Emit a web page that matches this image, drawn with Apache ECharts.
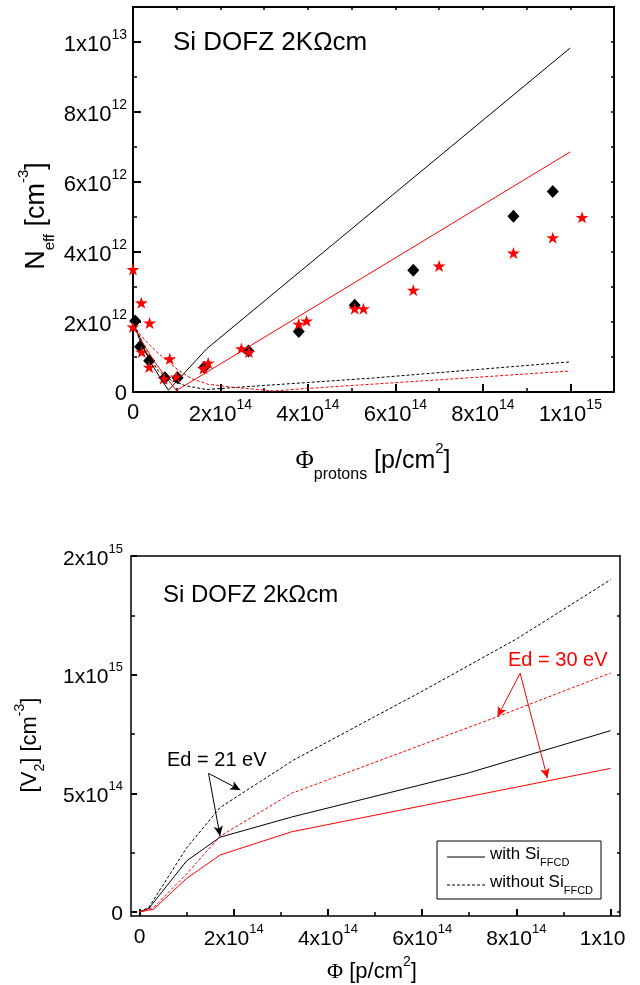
<!DOCTYPE html>
<html><head><meta charset="utf-8">
<script src="https://cdn.jsdelivr.net/npm/echarts@6/dist/echarts.min.js"></script>
<style>html,body{margin:0;padding:0;background:#fff}#c{width:640px;height:985px}</style>
</head><body><div id="c"></div>
<script>
// ---------- Top panel: N_eff vs proton fluence ----------
const diamondPhi  = [0.05e14, 0.16e14, 0.37e14, 0.73e14, 1.02e14, 1.63e14, 2.64e14, 3.79e14, 5.07e14, 6.41e14, 8.70e14, 9.60e14];
const diamondNeff = [2.03e12, 1.29e12, 0.89e12, 0.41e12, 0.41e12, 0.71e12, 1.17e12, 1.73e12, 2.48e12, 3.48e12, 5.02e12, 5.73e12];
const starPhi  = [0, 0, 0.19e14, 0.20e14, 0.38e14, 0.37e14, 0.70e14, 0.84e14, 0.99e14, 1.61e14, 1.72e14, 2.48e14, 2.65e14, 3.79e14, 3.97e14, 5.07e14, 5.27e14, 6.41e14, 7.00e14, 8.70e14, 9.60e14, 10.27e14];
const starNeff = [3.50e12, 1.86e12, 2.55e12, 1.14e12, 1.97e12, 0.71e12, 0.38e12, 0.95e12, 0.43e12, 0.67e12, 0.83e12, 1.24e12, 1.14e12, 1.94e12, 2.03e12, 2.38e12, 2.38e12, 2.91e12, 3.60e12, 3.97e12, 4.41e12, 4.99e12];

const blackSolidPhi  = [0, 0.15e14, 0.40e14, 0.60e14, 0.81e14, 1.69e14, 10.0e14];
const blackSolidNeff = [2.05e12, 1.50e12, 0.85e12, 0.45e12, 0.05e12, 1.24e12, 9.83e12];
const redSolidPhi  = [0, 0.25e14, 0.50e14, 0.99e14, 10.0e14];
const redSolidNeff = [1.93e12, 1.35e12, 0.85e12, 0.04e12, 6.86e12];
const blackDashPhi  = [0, 0.27e14, 0.58e14, 0.88e14, 1.20e14, 1.69e14, 2.45e14, 5.50e14, 10.0e14];
const blackDashNeff = [2.05e12, 1.20e12, 0.60e12, 0.33e12, 0.18e12, 0.07e12, 0.14e12, 0.40e12, 0.86e12];
const redDashPhi  = [0, 0.27e14, 0.58e14, 1.04e14, 1.34e14, 1.72e14, 2.33e14, 3.21e14, 3.97e14, 7.02e14, 10.0e14];
const redDashNeff = [1.90e12, 1.48e12, 1.10e12, 0.62e12, 0.38e12, 0.22e12, 0.13e12, 0.03e12, 0.10e12, 0.35e12, 0.60e12];

const topXTicks  = [0, 2e14, 4e14, 6e14, 8e14, 1e15];
const topXLabels = ['0', '2x10^14', '4x10^14', '6x10^14', '8x10^14', '1x10^15'];
const topYTicks  = [0, 2e12, 4e12, 6e12, 8e12, 1e13];
const topYLabels = ['0', '2x10^12', '4x10^12', '6x10^12', '8x10^12', '1x10^13'];

// ---------- Bottom panel: [V2] vs fluence ----------
const withPhi21 = [0, 0.2e14, 1.0e14, 1.71e14, 3.23e14, 6.95e14, 10.0e14];
const withV21   = [0, 0.15e14, 2.15e14, 3.15e14, 4.00e14, 5.84e14, 7.64e14];
const woPhi21   = [0, 0.2e14, 1.0e14, 1.71e14, 3.27e14, 6.0e14, 8.0e14, 10.0e14];
const woV21     = [0, 0.20e14, 2.70e14, 4.40e14, 6.40e14, 9.30e14, 11.5e14, 14.0e14];
const withPhi30 = [0, 0.3e14, 1.0e14, 1.71e14, 3.23e14, 10.0e14];
const withV30   = [0, 0.12e14, 1.41e14, 2.40e14, 3.38e14, 6.05e14];
const woPhi30   = [0, 0.3e14, 1.0e14, 1.71e14, 3.23e14, 7.6e14, 10.0e14];
const woV30     = [0, 0.20e14, 1.60e14, 3.19e14, 5.00e14, 8.23e14, 10.07e14];

const botXTicks  = [0, 2e14, 4e14, 6e14, 8e14, 1e15];
const botXLabels = ['0', '2x10^14', '4x10^14', '6x10^14', '8x10^14', '1x10'];
const botXMinor  = [1e14, 3e14, 5e14, 7e14, 9e14];
const botYTicks  = [0, 5e14, 1e15, 1.5e15];
const botYLabels = ['0', '5x10^14', '1x10^15', '2x10^15'];
const botYMinor  = [2.5e14, 7.5e14, 1.25e15];
const botYRight  = [0, 2.5e14, 5e14, 7.5e14, 1e15, 1.25e15];

// annotation arrows (data coordinates)
const arrow21 = [[[1.466e14, 5.84e14], [2.14e14, 5.14e14]], [[1.466e14, 5.84e14], [1.71e14, 3.2e14]]];
const arrow30 = [[[8.08e14, 10.06e14], [7.60e14, 8.23e14]], [[8.08e14, 10.06e14], [8.66e14, 5.63e14]]];

const FONT = '"Liberation Sans", Arial, Helvetica, sans-serif';
const SERIF = '"Liberation Serif", "Times New Roman", serif';
const zip = (a, b) => a.map((v, i) => [v, b[i]]);

function labelFn(ticks, labels) {
  return function (v) {
    const i = ticks.findIndex(t => Math.abs(t - v) <= Math.abs(t) * 1e-6 + 1);
    if (i < 0) return '';
    const s = labels[i];
    if (s.indexOf('^') >= 0) { const p = s.split('^'); return '{m|' + p[0] + '}{e|' + p[1] + '}'; }
    if (s === '0') return '{z|0}';
    return '{c|' + s + '}';
  };
}
function richSet(fs, es) {
  return {
    m: { fontSize: fs, fontFamily: FONT, color: '#000', padding: [6, 0, 0, 0] },
    e: { fontSize: es, fontFamily: FONT, color: '#000', verticalAlign: 'top' },
    z: { fontSize: fs, fontFamily: FONT, color: '#000', padding: [4, 0, 0, 0] },
    c: { fontSize: fs, fontFamily: FONT, color: '#000', padding: [6, 16, 0, 0] }
  };
}
const starPath = 'path://M50 0 L61.2 34.5 L97.6 34.5 L68.2 55.9 L79.4 90.5 L50 69.1 L20.6 90.5 L31.8 55.9 L2.4 34.5 L38.8 34.5 Z';
const solidIcon = 'path://M0 0h38v1.2h-38z';
const dashIcon = 'path://M0 0h3v1.2h-3z M5 0h3v1.2h-3z M10 0h3v1.2h-3z M15 0h3v1.2h-3z M20 0h3v1.2h-3z M25 0h3v1.2h-3z M30 0h3v1.2h-3z M35 0h3v1.2h-3z';

function lineSeries(name, xi, yi, data, color, dashed, extra) {
  return Object.assign({
    name: name, type: 'line', xAxisIndex: xi, yAxisIndex: yi, data: data,
    symbol: 'none', showSymbol: false, smooth: false, animation: false, silent: true,
    lineStyle: { color: color, width: 1, type: dashed ? [3, 2] : 'solid' },
    itemStyle: { color: color }
  }, extra || {});
}
function arrowMark(arr, color) {
  return {
    silent: true, animation: false, symbol: ['none', 'arrow'], symbolSize: [7, 10],
    label: { show: false },
    lineStyle: { type: 'solid', color: color, width: 1 },
    itemStyle: { color: color },
    emphasis: { disabled: true },
    data: arr.map(p => [{ coord: p[0] }, { coord: p[1] }])
  };
}
const tickStyle = { color: '#000', width: 2 };
const minorStyle = { color: '#000', width: 1.5 };

const option = {
  backgroundColor: '#fff',
  animation: false,
  grid: [
    { left: 133, top: 7, width: 481, height: 385 },
    { left: 131, top: 556, width: 489, height: 360 },
    { left: 131, top: 556, width: 489, height: 360 }
  ],
  xAxis: [
    { gridIndex: 0, type: 'value', position: 'bottom', min: 0, max: 1.1e15, interval: 2e14,
      axisLine: { show: true, onZero: false, lineStyle: { color: '#000', width: 2 } },
      axisTick: { show: true, inside: true, length: 8, lineStyle: tickStyle },
      minorTick: { show: true, splitNumber: 2, length: 4, lineStyle: minorStyle },
      splitLine: { show: false },
      axisLabel: { show: true, margin: 6, formatter: labelFn(topXTicks, topXLabels), rich: richSet(22, 14) } },
    { gridIndex: 0, type: 'value', position: 'top', min: 0, max: 1.1e15, interval: 1e14,
      axisLine: { show: true, onZero: false, lineStyle: { color: '#000', width: 2 } },
      axisTick: { show: true, inside: true, length: 3, lineStyle: minorStyle },
      splitLine: { show: false }, axisLabel: { show: false } },
    { gridIndex: 1, type: 'value', position: 'bottom', min: -1.8e13, max: 1.02e15,
      axisLine: { show: true, onZero: false, lineStyle: { color: '#000', width: 1.5 } },
      axisTick: { show: true, inside: true, length: 7, customValues: botXTicks, lineStyle: tickStyle },
      splitLine: { show: false },
      axisLabel: { show: true, margin: 7, customValues: botXTicks, formatter: labelFn(botXTicks, botXLabels), rich: richSet(21, 13) } },
    { gridIndex: 1, type: 'value', position: 'top', min: -1.8e13, max: 1.02e15,
      axisLine: { show: true, onZero: false, lineStyle: { color: '#000', width: 1.5 } },
      axisTick: { show: false }, splitLine: { show: false }, axisLabel: { show: false } },
    { gridIndex: 2, type: 'value', position: 'bottom', min: -1.8e13, max: 1.02e15,
      axisLine: { show: false, onZero: false },
      axisTick: { show: true, inside: true, length: 4, customValues: botXMinor, lineStyle: minorStyle },
      splitLine: { show: false }, axisLabel: { show: false } }
  ],
  yAxis: [
    { gridIndex: 0, type: 'value', position: 'left', min: 0, max: 1.1e13, interval: 2e12,
      axisLine: { show: true, onZero: false, lineStyle: { color: '#000', width: 2 } },
      axisTick: { show: true, inside: true, length: 8, lineStyle: tickStyle },
      minorTick: { show: true, splitNumber: 2, length: 4, lineStyle: minorStyle },
      splitLine: { show: false },
      axisLabel: { show: true, margin: 6, formatter: labelFn(topYTicks, topYLabels), rich: richSet(22, 14) } },
    { gridIndex: 0, type: 'value', position: 'right', min: 0, max: 1.1e13, interval: 1e12,
      axisLine: { show: true, onZero: false, lineStyle: { color: '#000', width: 2 } },
      axisTick: { show: true, inside: true, length: 3, lineStyle: minorStyle },
      splitLine: { show: false }, axisLabel: { show: false } },
    { gridIndex: 1, type: 'value', position: 'left', min: -1.7e13, max: 1.5e15,
      axisLine: { show: true, onZero: false, lineStyle: { color: '#000', width: 1.5 } },
      axisTick: { show: true, inside: true, length: 6, customValues: botYTicks, lineStyle: tickStyle },
      splitLine: { show: false },
      axisLabel: { show: true, margin: 8, customValues: botYTicks, formatter: labelFn(botYTicks, botYLabels), rich: richSet(21, 13) } },
    { gridIndex: 1, type: 'value', position: 'right', min: -1.7e13, max: 1.5e15,
      axisLine: { show: true, onZero: false, lineStyle: { color: '#000', width: 1.5 } },
      axisTick: { show: true, inside: true, length: 3, customValues: botYRight, lineStyle: minorStyle },
      splitLine: { show: false }, axisLabel: { show: false } },
    { gridIndex: 2, type: 'value', position: 'left', min: -1.7e13, max: 1.5e15,
      axisLine: { show: false, onZero: false },
      axisTick: { show: true, inside: true, length: 4, customValues: botYMinor, lineStyle: minorStyle },
      splitLine: { show: false }, axisLabel: { show: false } }
  ],
  legend: {
    show: true, orient: 'vertical', left: 437, top: 841,
    data: [{ name: 'with', icon: solidIcon }, { name: 'without', icon: dashIcon }],
    symbolKeepAspect: false,
    borderColor: '#000', borderWidth: 1, padding: [5, 8, 3, 10], itemGap: 6,
    itemWidth: 38, itemHeight: 1.2, selectedMode: false,
    itemStyle: { color: '#000', borderWidth: 0 },
    formatter: n => n === 'with' ? '{t|with Si}{s|FFCD}' : '{t|without Si}{s|FFCD}',
    textStyle: { color: '#000', fontFamily: FONT, fontSize: 17,
      rich: { t: { fontSize: 17, fontFamily: FONT, color: '#000', padding: [0, 0, 5, 0] },
              s: { fontSize: 11, fontFamily: FONT, color: '#000', verticalAlign: 'bottom' } } }
  },
  series: [
    { name: 'diamonds', type: 'scatter', xAxisIndex: 0, yAxisIndex: 0, data: zip(diamondPhi, diamondNeff),
      symbol: 'diamond', symbolSize: [12, 13], itemStyle: { color: '#000', opacity: 1 }, silent: true, animation: false },
    { name: 'stars', type: 'scatter', xAxisIndex: 0, yAxisIndex: 0, data: zip(starPhi, starNeff),
      symbol: starPath, symbolSize: [13, 12], itemStyle: { color: '#ff0000', opacity: 1 }, silent: true, animation: false },
    lineSeries('topBlackSolid', 0, 0, zip(blackSolidPhi, blackSolidNeff), '#000', false),
    lineSeries('topRedSolid', 0, 0, zip(redSolidPhi, redSolidNeff), '#ff0000', false),
    lineSeries('topBlackDash', 0, 0, zip(blackDashPhi, blackDashNeff), '#000', true),
    lineSeries('topRedDash', 0, 0, zip(redDashPhi, redDashNeff), '#ff0000', true),
    lineSeries('with', 2, 2, zip(withPhi21, withV21), '#000', false, { markLine: arrowMark(arrow21, '#000') }),
    lineSeries('without', 2, 2, zip(woPhi21, woV21), '#000', true),
    lineSeries('with30', 2, 2, zip(withPhi30, withV30), '#ff0000', false, { markLine: arrowMark(arrow30, '#ff0000') }),
    lineSeries('without30', 2, 2, zip(woPhi30, woV30), '#ff0000', true)
  ],
  graphic: [
    { type: 'text', x: 173, y: 43, silent: true,
      style: { text: 'Si DOFZ 2KΩcm', fontSize: 26, fontFamily: FONT, fill: '#000', align: 'left', verticalAlign: 'middle' } },
    { type: 'text', x: 37, y: 216, rotation: Math.PI / 2, silent: true,
      style: { text: '{t|N}{sub|eff}{t| [cm}{sup|-3}{t|]}', align: 'center', verticalAlign: 'middle', fill: '#000',
        rich: { t: { fontSize: 27, fontFamily: FONT, fill: '#000', padding: [7, 0, 7, 0] },
                sub: { fontSize: 15, fontFamily: FONT, fill: '#000', verticalAlign: 'bottom' },
                sup: { fontSize: 15, fontFamily: FONT, fill: '#000', verticalAlign: 'top' } } } },
    { type: 'text', x: 373, y: 462, silent: true,
      style: { text: '{phi|Φ}{sub|protons}{t| [p/cm}{sup|2}{t|]}', align: 'center', verticalAlign: 'middle', fill: '#000',
        rich: { phi: { fontSize: 25, fontFamily: SERIF, fill: '#000', padding: [7, 0, 9, 0] },
                t: { fontSize: 25, fontFamily: FONT, fill: '#000', padding: [7, 0, 9, 0] },
                sub: { fontSize: 16, fontFamily: FONT, fill: '#000', verticalAlign: 'bottom' },
                sup: { fontSize: 15, fontFamily: FONT, fill: '#000', verticalAlign: 'top' } } } },
    { type: 'text', x: 163, y: 595, silent: true,
      style: { text: 'Si DOFZ 2kΩcm', fontSize: 24, fontFamily: FONT, fill: '#000', align: 'left', verticalAlign: 'middle' } },
    { type: 'text', x: 30, y: 745, rotation: Math.PI / 2, silent: true,
      style: { text: '{t|[V}{sub|2}{t|] [cm}{sup|-3}{t|]}', align: 'center', verticalAlign: 'middle', fill: '#000',
        rich: { t: { fontSize: 22, fontFamily: FONT, fill: '#000', padding: [6, 0, 6, 0] },
                sub: { fontSize: 14, fontFamily: FONT, fill: '#000', verticalAlign: 'bottom' },
                sup: { fontSize: 14, fontFamily: FONT, fill: '#000', verticalAlign: 'top' } } } },
    { type: 'text', x: 372, y: 969, silent: true,
      style: { text: '{phi|Φ}{t| [p/cm}{sup|2}{t|]}', align: 'center', verticalAlign: 'middle', fill: '#000',
        rich: { phi: { fontSize: 22, fontFamily: SERIF, fill: '#000', padding: [6, 0, 0, 0] },
                t: { fontSize: 22, fontFamily: FONT, fill: '#000', padding: [6, 0, 0, 0] },
                sup: { fontSize: 14, fontFamily: FONT, fill: '#000', verticalAlign: 'top' } } } },
    { type: 'text', x: 167, y: 760, silent: true,
      style: { text: 'Ed = 21 eV', fontSize: 20, fontFamily: FONT, fill: '#000', align: 'left', verticalAlign: 'middle' } },
    { type: 'text', x: 508, y: 660, silent: true,
      style: { text: 'Ed = 30 eV', fontSize: 20, fontFamily: FONT, fill: '#ff0000', align: 'left', verticalAlign: 'middle' } }
  ]
};

const chart = echarts.init(document.getElementById('c'), null, { renderer: 'canvas' });
chart.setOption(option);
</script></body></html>
